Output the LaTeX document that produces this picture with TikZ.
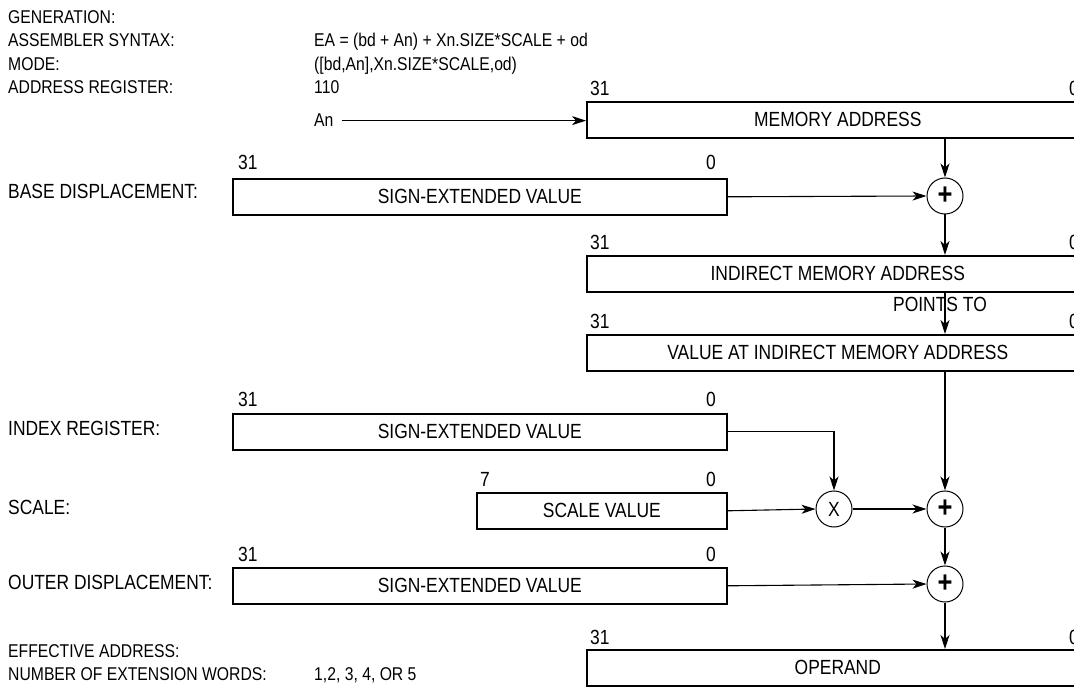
\documentclass[tikz,border=0pt]{standalone}
\usepackage{fontspec}
\setmainfont{Liberation Sans}[FakeStretch=0.85]
\usetikzlibrary{arrows.meta,calc}
\begin{document}
\begin{tikzpicture}[x=1pt,y=-1pt,
  every node/.style={font=\fontsize{20.5}{24}\selectfont, inner sep=0pt},
  hdr/.style={anchor=base west, font=\fontsize{18.5}{22}\selectfont},
  lbl/.style={anchor=base west},
  bitl/.style={anchor=base west},
  bitr/.style={anchor=base east},
  regbox/.style={draw, line width=1.6pt, anchor=north west, inner sep=0pt},
  op/.style={draw, circle, line width=1pt, minimum size=36pt, inner sep=0pt},
  arr/.style={line width=1.1pt, -{Stealth[length=14pt,width=9pt,inset=4pt]}}]
\useasboundingbox (0,0) rectangle (1074,700);
% header / footer labels
\node[hdr] (gen) at (8,24) {GENERATION:};
\node[hdr] (asm) at (8,47) {ASSEMBLER SYNTAX:};
\node[hdr] (mode) at (8,71) {MODE:};
\node[hdr] (areg) at (8,94) {ADDRESS REGISTER:};
\node[hdr] (eal) at (8,657) {EFFECTIVE ADDRESS:};
\node[hdr] (nwl) at (8,680) {NUMBER OF EXTENSION WORDS:};
% left labels
\node[lbl] (bdl) at (8,199) {BASE DISPLACEMENT:};
\node[lbl] (ixl) at (8,436) {INDEX REGISTER:};
\node[lbl] (scl) at (8,514) {SCALE:};
\node[lbl] (odl) at (8,589) {OUTER DISPLACEMENT:};
% right column texts
\node[hdr] (ea) at (314,47) {EA = (bd + An) + Xn.SIZE*SCALE + od};
\node[hdr] (md) at (314,71) {([bd,An],Xn.SIZE*SCALE,od)};
\node[hdr] (rg) at (314,94) {110};
\node[hdr, inner xsep=8pt] (an) at (306,127) {An};
\node[hdr] (nw) at (314,680) {1,2, 3, 4, OR 5};
% register boxes
\node[regbox, minimum width=502pt, minimum height=36pt] (mem) at (586,101) {MEMORY ADDRESS};
\node[regbox, minimum width=494pt, minimum height=36pt] (bd) at (232,178) {SIGN-EXTENDED VALUE};
\node[regbox, minimum width=502pt, minimum height=36pt] (ind) at (586,255) {INDIRECT MEMORY ADDRESS};
\node[regbox, minimum width=502pt, minimum height=36pt] (val) at (586,334) {VALUE AT INDIRECT MEMORY ADDRESS};
\node[regbox, minimum width=494pt, minimum height=36pt] (ix) at (232,413) {SIGN-EXTENDED VALUE};
\node[regbox, minimum width=250pt, minimum height=36pt] (sc) at (476,492) {SCALE VALUE};
\node[regbox, minimum width=494pt, minimum height=36pt] (od) at (232,567) {SIGN-EXTENDED VALUE};
\node[regbox, minimum width=502pt, minimum height=36pt] (opd) at (586,649) {OPERAND};
% bit numbers
\node[bitl] (mem31) at (590,96) {31};   \node[bitr] (mem0) at (1079,96) {0};
\node[bitl] (bd31) at (238,170) {31};   \node[bitr] (bd0) at (716,170) {0};
\node[bitl] (ind31) at (590,250) {31};  \node[bitr] (ind0) at (1079,250) {0};
\node[bitl] (val31) at (590,329) {31};  \node[bitr] (val0) at (1079,329) {0};
\node[bitl] (ix31) at (238,407) {31};   \node[bitr] (ix0) at (716,407) {0};
\node[bitl] (sc7) at (480,486) {7};     \node[bitr] (sc0) at (716,486) {0};
\node[bitl] (od31) at (238,561) {31};   \node[bitr] (od0) at (716,561) {0};
\node[bitl] (opd31) at (590,644) {31};  \node[bitr] (opd0) at (1079,644) {0};
% operators
\node[op] (c1) at (945,196) {\fontsize{30}{30}\selectfont\bfseries +};
\node[op] (cx) at (834,509) {X};
\node[op] (c2) at (945,509) {\fontsize{30}{30}\selectfont\bfseries +};
\node[op] (c3) at (945,584) {\fontsize{30}{30}\selectfont\bfseries +};
% connectors
\draw[arr] (an.east) -- (mem.west |- an.east);
\draw[arr] (mem.south -| c1) -- (c1.north);
\draw[arr] (bd.east) -- (c1.west);
\draw[arr] (c1.south) -- (ind.north -| c1);
\draw[arr] (ind.south -| c1) -- (val.north -| c1);
\node[anchor=base west] (pt) at (893,312) {POINTS TO};
\draw[arr] (val.south -| c2) -- (c2.north);
\draw[arr] (ix.east) -| (cx.north);
\draw[arr] (sc.east) -- (cx.west);
\draw[arr] (cx.east) -- (c2.west);
\draw[arr] (c2.south) -- (c3.north);
\draw[arr] (od.east) -- (c3.west);
\draw[arr] (c3.south) -- (opd.north -| c3);
\end{tikzpicture}
\end{document}
